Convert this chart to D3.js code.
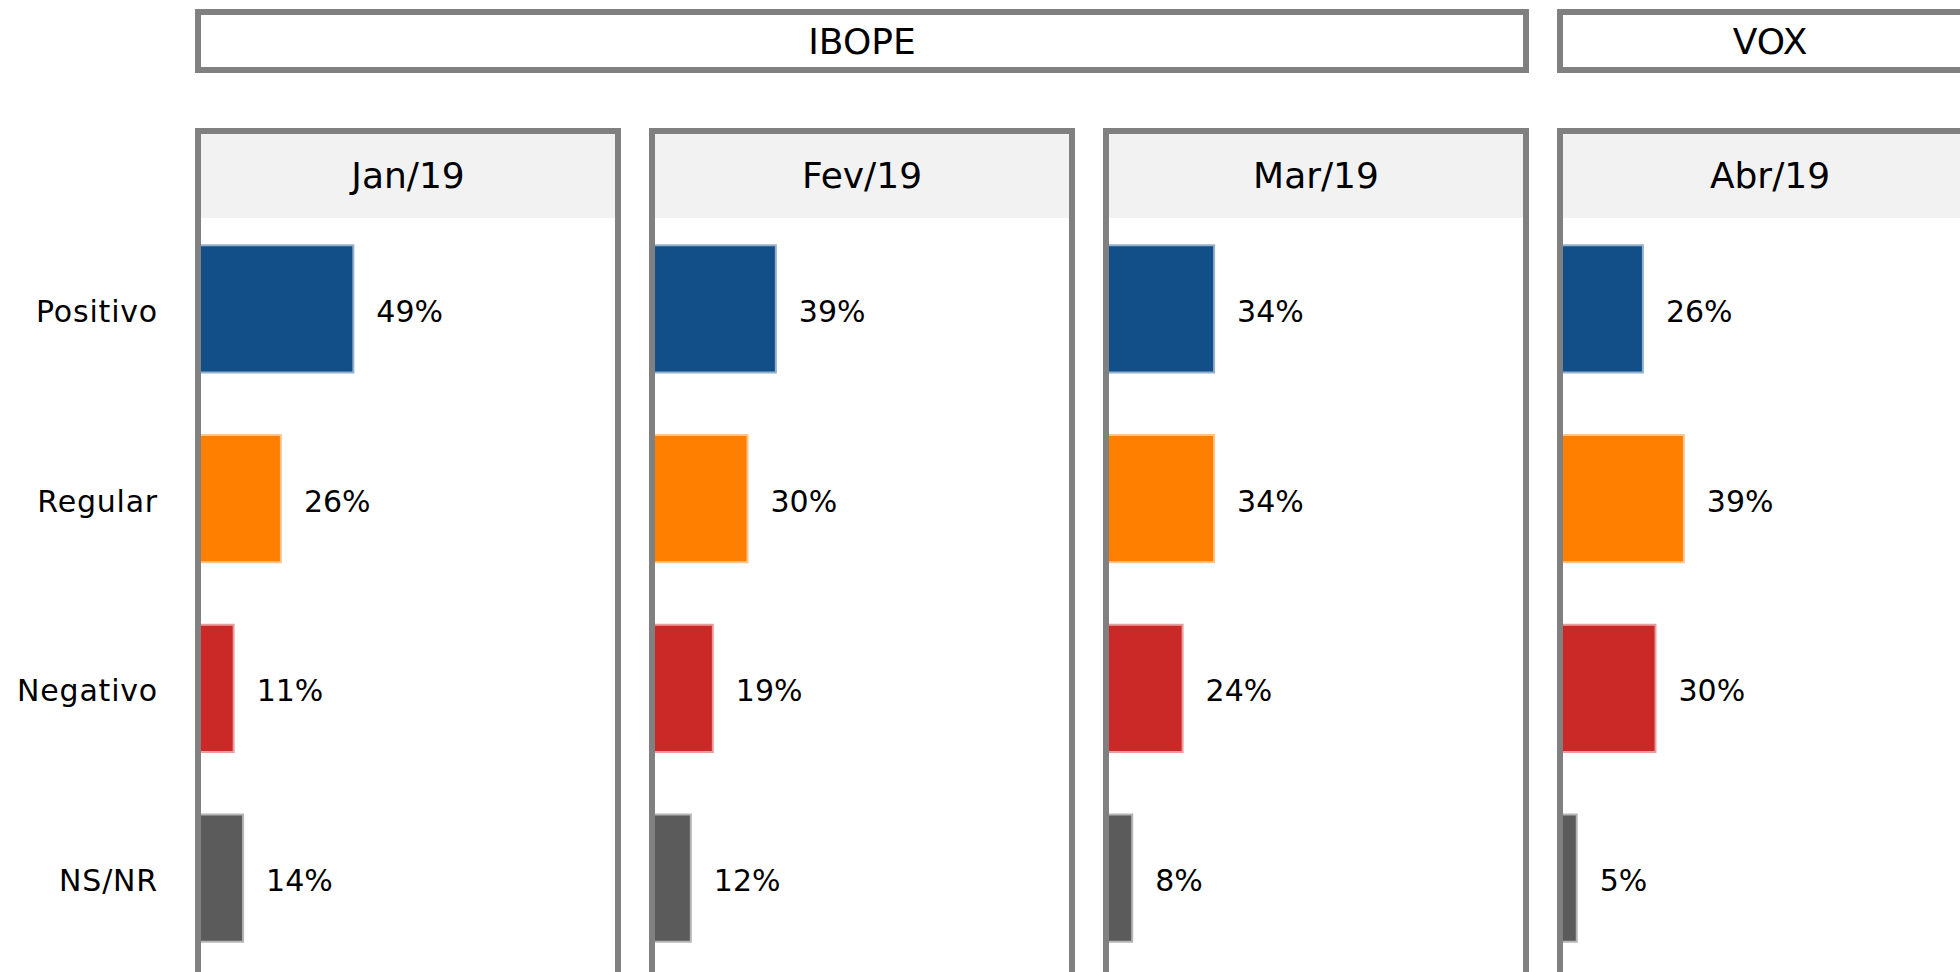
<!DOCTYPE html>
<html>
<head>
<meta charset="utf-8">
<script src="https://cdn.jsdelivr.net/npm/d3@7"></script>
<style>
    body { margin: 0; background: #fff; }
    text { font-family: "DejaVu Sans", sans-serif; fill: #000; }
</style>
</head>
<body>
<svg id="chart"></svg>
<script>
var months = ["Jan/19", "Fev/19", "Mar/19", "Abr/19"];
var institutes = ["IBOPE", "IBOPE", "IBOPE", "VOX"];
var categories = ["Positivo", "Regular", "Negativo", "NS/NR"];

var positivo = [49, 39, 34, 26];
var regular = [26, 30, 34, 39];
var negativo = [11, 19, 24, 30];
var nsnr = [14, 12, 8, 5];

var series = [positivo, regular, negativo, nsnr];
var colors = ["#124f89", "#ff7f00", "#cb2828", "#5b5b5b"];

var w = 1960, h = 972;
var border = 6;

var svg = d3.select("#chart")
    .attr("width", w)
    .attr("height", h);

// one panel per month
var panelX = d3.scaleBand()
    .domain(months)
    .range([195, 1983])
    .paddingInner(0.0617);

var rowY = d3.scaleBand()
    .domain(categories)
    .range([214, 973])
    .paddingInner(0.34)
    .paddingOuter(0.17);

var x = d3.scaleLinear()
    .domain([0, 100])
    .range([0, 315]);

var color = d3.scaleOrdinal().domain(categories).range(colors);

// institute boxes on top
var groups = d3.groups(months.map(function (m, i) {
    return {month: m, inst: institutes[i]};
}), function (d) { return d.inst; });

var instBox = svg.selectAll(".inst")
    .data(groups)
    .enter().append("g")
    .attr("class", "inst");

instBox.append("rect")
    .attr("x", function (d) { return panelX(d[1][0].month) + border / 2; })
    .attr("y", 12)
    .attr("width", function (d) {
        var last = d[1][d[1].length - 1].month;
        return panelX(last) + panelX.bandwidth() - panelX(d[1][0].month) - border;
    })
    .attr("height", 58)
    .style("fill", "#fff")
    .style("stroke", "#808080")
    .style("stroke-width", border);

instBox.append("text")
    .attr("x", function (d) {
        var last = d[1][d[1].length - 1].month;
        return (panelX(d[1][0].month) + panelX(last) + panelX.bandwidth()) / 2;
    })
    .attr("y", 54)
    .attr("text-anchor", "middle")
    .style("font-size", "36px")
    .text(function (d) { return d[0]; });

// category labels
svg.selectAll(".cat")
    .data(categories)
    .enter().append("text")
    .attr("class", "cat")
    .attr("x", 158)
    .attr("y", function (d) { return rowY(d) + rowY.bandwidth() / 2; })
    .attr("dy", "0.43em")
    .attr("text-anchor", "end")
    .style("font-size", "30px")
    .style("letter-spacing", "0.8px")
    .text(function (d) { return d; });

// panels
var panel = svg.selectAll(".panel")
    .data(months)
    .enter().append("g")
    .attr("class", "panel")
    .attr("transform", function (d) { return "translate(" + panelX(d) + ",0)"; });

panel.append("rect")
    .attr("x", border / 2)
    .attr("y", 131)
    .attr("width", panelX.bandwidth() - border)
    .attr("height", 87)
    .style("fill", "#f2f2f2");

panel.append("text")
    .attr("x", panelX.bandwidth() / 2)
    .attr("y", 188)
    .attr("text-anchor", "middle")
    .style("font-size", "36px")
    .text(function (d) { return d; });

panel.each(function (m, i) {
    var g = d3.select(this);
    var rows = categories.map(function (c, j) {
        return {cat: c, value: series[j][i]};
    });

    g.selectAll(".bar")
        .data(rows)
        .enter().append("rect")
        .attr("class", "bar")
        .attr("x", border / 2)
        .attr("y", function (d) { return rowY(d.cat); })
        .attr("width", function (d) { return x(d.value); })
        .attr("height", rowY.bandwidth())
        .style("fill", function (d) { return color(d.cat); })
        .style("stroke", function (d) { return color(d.cat); })
        .style("stroke-opacity", 0.45)
        .style("stroke-width", 4);

    g.selectAll(".val")
        .data(rows)
        .enter().append("text")
        .attr("class", "val")
        .attr("x", function (d) { return border / 2 + x(d.value) + 24; })
        .attr("y", function (d) { return rowY(d.cat) + rowY.bandwidth() / 2; })
        .attr("dy", "0.43em")
        .style("font-size", "30px")
        .text(function (d) { return d.value + "%"; });
});

panel.append("rect")
    .attr("x", border / 2)
    .attr("y", 131)
    .attr("width", panelX.bandwidth() - border)
    .attr("height", 1000)
    .style("fill", "none")
    .style("stroke", "#808080")
    .style("stroke-width", border);
</script>
</body>
</html>
